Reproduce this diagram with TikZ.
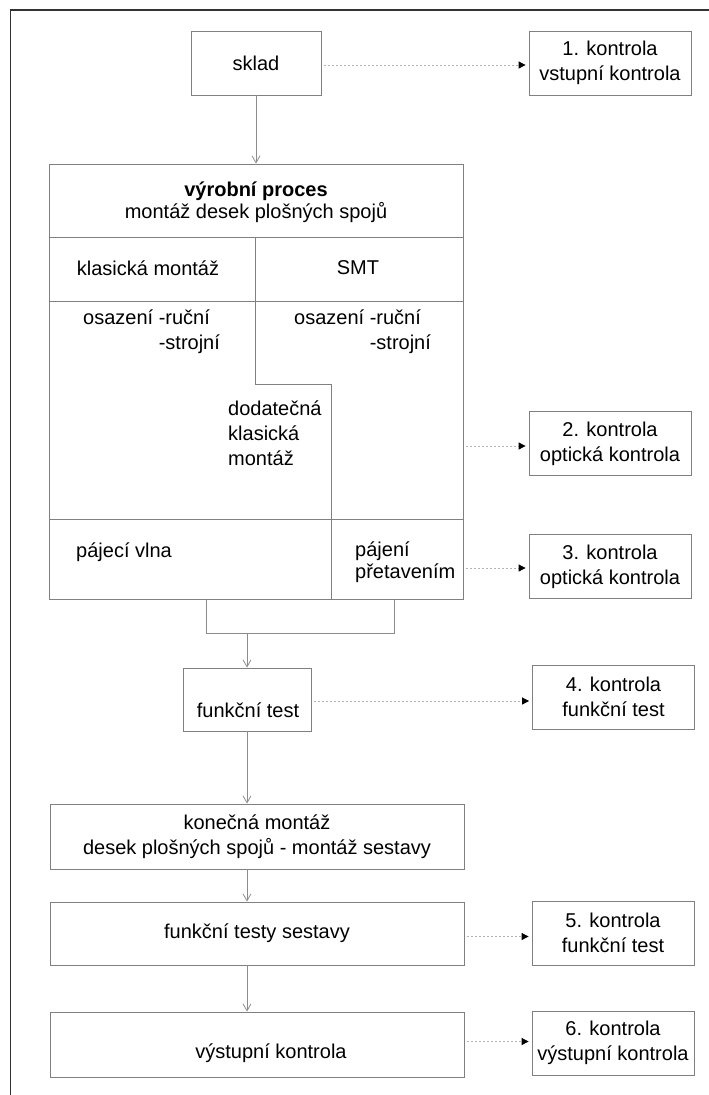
\documentclass[tikz,border=0pt]{standalone}
\usepackage{fontspec}
\setmainfont{Liberation Sans}
\usetikzlibrary{arrows.meta, calc, positioning}

\definecolor{ramgray}{HTML}{808080}
\definecolor{tokgray}{HTML}{8C8C8C}
\definecolor{bodgray}{HTML}{B4B4B4}

\begin{document}
\begin{tikzpicture}[x=1pt, y=-1pt, >=Latex,
		every node/.style={font=\fontsize{20}{25}\selectfont},
		krok/.style={draw=ramgray, line width=0.8pt, minimum height=64pt, align=center, inner sep=0pt},
		kontrola/.style={krok, minimum width=162pt},
		tok/.style={draw=tokgray, line width=0.8pt, -{Straight Barb[length=7pt, width=8pt]}},
		linka/.style={draw=tokgray, line width=0.8pt},
		vazba/.style={draw=bodgray, line width=0.8pt, dash pattern=on 2pt off 2pt, shorten <=3pt, shorten >=3pt, -{Triangle[length=7pt, width=7pt, black]}},
		popis/.style={align=left, inner sep=0pt, anchor=west}]
			
			\useasboundingbox (0,0) rectangle (709,1095);
			
			% Frame
			\draw[line width=1.5pt, black!80] (10.5,1095) -- (10.5,10) -- (709,10);
			
			% Main flow
			\node[krok, minimum width=130pt] (sklad) at (256,63) {sklad};
			\node[krok, minimum width=414pt, minimum height=435pt] (vyroba) at (256,381.5) {};
			\node[krok, minimum width=128pt, minimum height=63pt] (ftest) at (247,699.5) {};
			\node (ftestT) at (248,710) {funkční test};
			\node[krok, minimum width=414pt, minimum height=65pt] (konec) at (257,836.5) {konečná montáž\\desek plošných spojů - montáž sestavy};
			\node[krok, minimum width=414pt, minimum height=63pt] (sestava) at (257,933.5) {funkční testy sestavy};
			\node[krok, minimum width=414pt, minimum height=65pt] (vystup) at (257,1044.5) {};
			\node (vystupT) at (271,1053) {výstupní kontrola};
			
			% Checks
			\node[kontrola] (k1) at (610,63) {1. kontrola\\vstupní kontrola};
			\node[kontrola] (k2) at (610,443.5) {2. kontrola\\optická kontrola};
			\node[kontrola] (k3) at (610,566.5) {3. kontrola\\optická kontrola};
			\node[kontrola] (k4) at (613.5,697) {4. kontrola\\funkční test};
			\node[kontrola] (k5) at (613,933) {5. kontrola\\funkční test};
			\node[kontrola] (k6) at (613,1043) {6. kontrola\\výstupní kontrola};
			
			% Cells of the production box
			\draw[linka, draw=ramgray] (vyroba.west |- 0,237) -- (vyroba.east |- 0,237);
			\draw[linka, draw=ramgray] (vyroba.west |- 0,301) -- (vyroba.east |- 0,301);
			\draw[linka, draw=ramgray] (vyroba.west |- 0,519) -- (vyroba.east |- 0,519);
			\draw[linka, draw=ramgray] (255,237) -- (255,384) -- (331,384) -- (vyroba.south -| 331,0);
			
			\node[align=center, font=\fontsize{20}{22}\selectfont] (titul) at (256,202) {\textbf{výrobní proces}\\montáž desek plošných spojů};
			\node (klasik) at (148,268) {klasická montáž};
			\node (smt) at (358,268) {SMT};
			\node[popis] (osazL) at (83,332) {osazení -ruční\\\phantom{osazení }-strojní};
			\node[popis] (osazR) at (294,332) {osazení -ruční\\\phantom{osazení }-strojní};
			\node[popis] (dodat) at (228,433) {dodatečná\\klasická\\montáž};
			\node[popis] (vlna) at (76,552) {pájecí vlna};
			\node[popis, font=\fontsize{20}{22}\selectfont] (pretav) at (355,562.5) {pájení\\přetavením};
			
			% Solid connectors
			\draw[tok] (sklad) -- (vyroba);
			\coordinate (jl) at (206,633);
			\coordinate (jr) at (394,633);
			\draw[linka] (vyroba.south -| jl) -- (jl) -- (jr) -- (vyroba.south -| jr);
			\draw[tok] (ftest.north |- jl) -- (ftest.north);
			\draw[tok] (ftest.south) -- (ftest.south |- konec.north);
			\draw[tok] (konec.south -| ftest) -- (sestava.north -| ftest);
			\draw[tok] (sestava.south -| ftest) -- (vystup.north -| ftest);
			
			% Dotted links to checks
			\draw[vazba] (sklad.east |- 0,65) -- (k1.west |- 0,65);
			\draw[vazba] (vyroba.east |- 0,446) -- (k2.west |- 0,446);
			\draw[vazba] (vyroba.east |- 0,568) -- (k3.west |- 0,568);
			\draw[vazba] (ftest.east |- 0,701) -- (k4.west |- 0,701);
			\draw[vazba] (sestava.east |- 0,936.5) -- (k5.west |- 0,936.5);
			\draw[vazba] (vystup.east |- 0,1041.5) -- (k6.west |- 0,1041.5);
			
		\end{tikzpicture}
\end{document}
